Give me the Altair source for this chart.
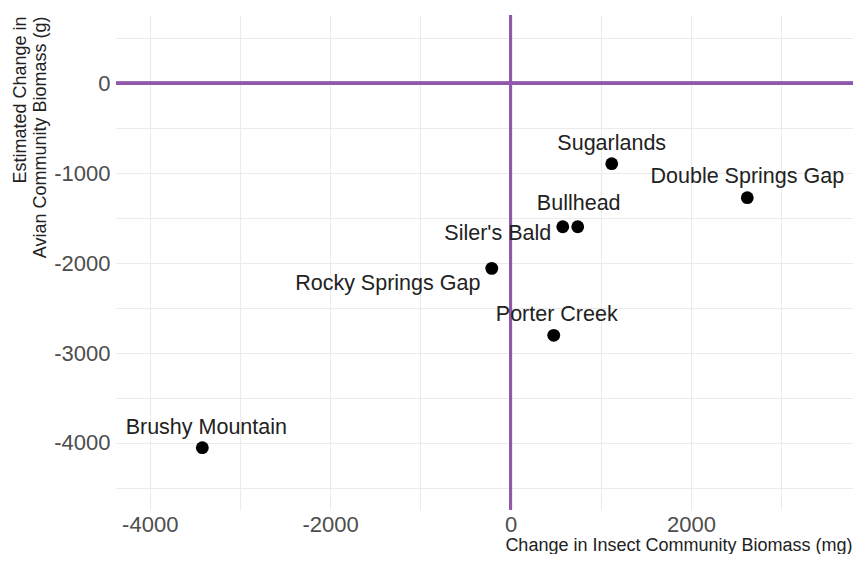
import altair as alt
import pandas as pd

# ---- data ----
sites = ["Brushy Mountain", "Rocky Springs Gap", "Porter Creek", "Siler's Bald",
         "Bullhead", "Sugarlands", "Double Springs Gap"]
insect_change = [-3417, -208, 479, 579, 745, 1122, 2625]        # mg
avian_change = [-4053, -2058, -2803, -1595, -1595, -894, -1272]  # g

# label placement (pixel offsets from each point, like ggrepel output)
label_dx = [4, -104, 3, -65, 1, 0, 0]
label_dy = [-14, 22, -14, 13, -17, -14, -15]

x_grid = [-4000, -3000, -2000, -1000, 0, 1000, 2000, 3000]
y_grid = [500, 0, -500, -1000, -1500, -2000, -2500, -3000, -3500, -4000, -4500]
x_domain = [-4374, 3797]
y_domain = [-4746, 760]

df = pd.DataFrame({"site": sites, "insect": insect_change, "avian": avian_change})

FONT = "Liberation Sans"
PURPLE = "#9059ab"
W = 737

x_enc = alt.X(
    "insect:Q",
    scale=alt.Scale(domain=x_domain, nice=False, zero=False),
    axis=alt.Axis(
        values=x_grid,
        labelExpr="datum.value % 2000 == 0 ? '' + datum.value : ''",
        title="Change in Insect Community Biomass (mg)",
        titleX=W - 1, titleY=40, titleAlign="right", titleAnchor="end",
        titleBaseline="alphabetic",
        labelPadding=4,
    ),
)
y_enc = alt.Y(
    "avian:Q",
    scale=alt.Scale(domain=y_domain, nice=False, zero=False),
    axis=alt.Axis(
        values=y_grid,
        labelExpr="datum.value % 1000 == 0 ? '' + datum.value : ''",
        title=["Estimated Change in", "Avian Community Biomass (g)"],
        titleAngle=270, titleX=-96, titleY=1, titleAlign="right",
        titleBaseline="middle", titleLineHeight=20,
        labelPadding=6,
    ),
)

base = alt.Chart(df)

points = base.mark_circle(size=165, color="black", opacity=1).encode(x=x_enc, y=y_enc)

hline = alt.Chart(df).mark_rule(color=PURPLE, strokeWidth=3).encode(y=alt.datum(0))
vline = alt.Chart(df).mark_rule(color=PURPLE, strokeWidth=3).encode(x=alt.datum(0))

labels = []
for s, dx, dy in zip(sites, label_dx, label_dy):
    labels.append(
        base.transform_filter(alt.datum.site == s)
        .mark_text(font=FONT, fontSize=21.5, color="#222222", align="center",
                   baseline="alphabetic", dx=dx, dy=dy)
        .encode(x="insect:Q", y="avian:Q", text="site:N")
    )

chart = alt.layer(points, hline, vline, *labels).properties(
    width=W, height=495,
    autosize=alt.AutoSizeParams(type="none"),
    padding={"left": 108, "top": 7, "right": 0, "bottom": 44},
    background="white",
).configure_view(stroke=None).configure_axis(
    domain=False, ticks=False,
    grid=True, gridColor="#ebebeb", gridWidth=1.1,
    labelFont=FONT, labelFontSize=22, labelColor="#4d4d4d",
    titleFont=FONT, titleFontSize=18, titleColor="#222222", titleFontWeight="normal",
)

chart.save("out.html", embed_options={"renderer": "svg", "actions": False})
